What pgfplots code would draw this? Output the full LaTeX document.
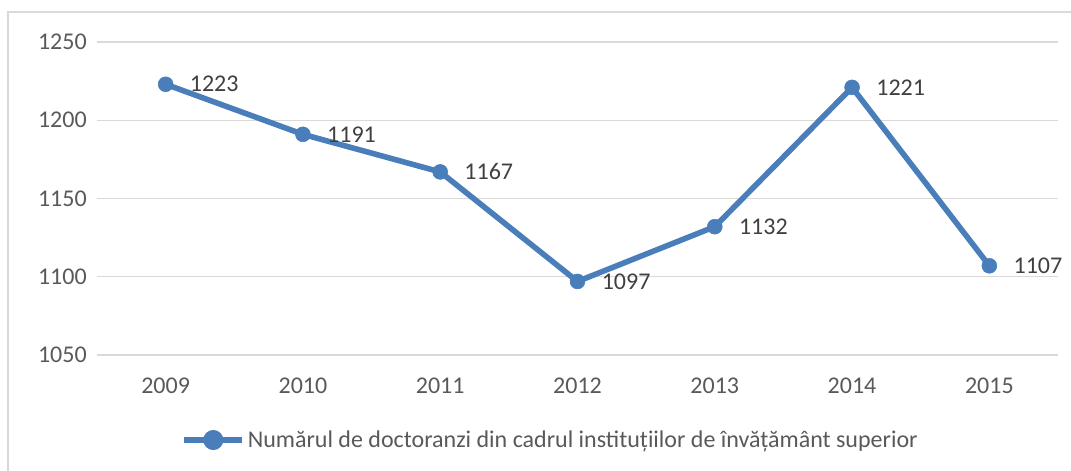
\documentclass[border=0pt]{standalone}
\usepackage{fontspec}
\setmainfont{Carlito}
\usepackage{pgfplots}
\pgfplotsset{compat=1.18}
\definecolor{lineblue}{HTML}{4A7EBB}
\definecolor{gridgray}{HTML}{D9D9D9}
\definecolor{txt}{HTML}{595959}
\definecolor{lbl}{HTML}{404040}
\newcommand{\cf}{\fontsize{18}{21}\selectfont}
\begin{document}
\begin{tikzpicture}
\useasboundingbox (0pt,0pt) rectangle (803.25pt,-353.25pt);
\draw[gridgray, line width=1.1pt] (6pt,-9pt) rectangle (900pt,-450pt);
\begin{axis}[
  at={(72.75pt,-266.25pt)}, anchor=south west,
  scale only axis, width=720.75pt, height=234.75pt,
  xmin=-0.5, xmax=6.5, ymin=1050, ymax=1250,
  ytick={1050,1100,1150,1200,1250},
  xtick={0,...,6},
  xticklabels={2009,2010,2011,2012,2013,2014,2015},
  axis line style={draw=none},
  ymajorgrids, grid style={gridgray, line width=1.1pt},
  tick style={draw=none},
  clip=false,
  /pgf/number format/.cd, 1000 sep={}, assume math mode=true, /pgfplots/.cd,
  ticklabel style={font=\cf, text=txt, inner sep=0pt},
  yticklabel style={anchor=east, xshift=-7.5pt},
  xticklabel style={anchor=north, yshift=-17pt},
  legend style={at={(0.4724,-0.2716)}, anchor=center, draw=none, fill=none,
    font=\cf, text=txt, inner sep=0pt},
  legend image code/.code={
    \draw[lineblue, line width=4.2pt] (0pt,0pt) -- (43.5pt,0pt);
    \fill[lineblue] (21.75pt,0pt) circle (5.4pt);
  },
  nodes near coords,
  every node near coord/.style={anchor=west, inner sep=0pt, xshift=18pt, font=\cf, text=lbl},
]
\addplot[lineblue, line width=4.2pt, mark=*, mark size=5.6pt,
  mark options={solid, fill=lineblue, draw=lineblue, line width=0.4pt}]
  coordinates {(0,1223) (1,1191) (2,1167) (3,1097) (4,1132) (5,1221) (6,1107)};
\addlegendentry{Numărul de doctoranzi din cadrul instituțiilor de învățământ superior}
\end{axis}
\end{tikzpicture}
\end{document}
